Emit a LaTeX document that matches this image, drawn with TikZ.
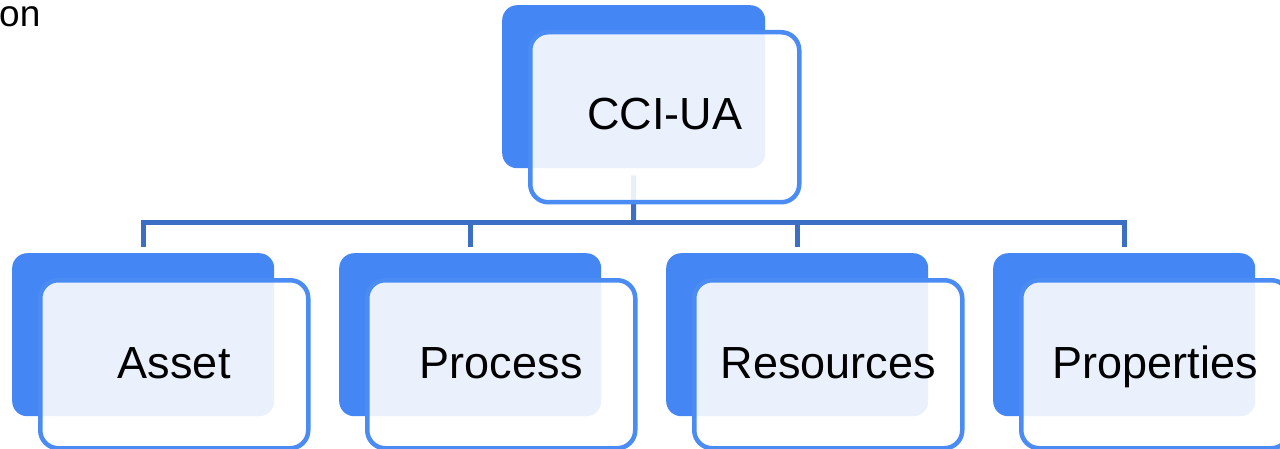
\documentclass[tikz,border=0pt]{standalone}
\usepackage{fontspec}
\setmainfont{Liberation Sans}
\definecolor{backblue}{HTML}{4487F4}
\definecolor{edgeblue}{HTML}{4A8CF4}
\definecolor{linkblue}{HTML}{3C6EC6}
\begin{document}
\begin{tikzpicture}[x=1pt,y=-1pt,
  backbox/.style={fill=backblue, draw=none, rounded corners=15pt,
    minimum width=262pt, minimum height=163pt, anchor=north west, inner sep=0pt},
  frontbox/.style={draw=edgeblue, line width=4.5pt, fill=white, fill opacity=0.89,
    text opacity=1, rounded corners=18pt, minimum width=268pt, minimum height=168pt,
    anchor=north west, inner sep=0pt, text height=28pt, text depth=0pt,
    font=\fontsize{45}{50}\selectfont},
  link/.style={draw=linkblue, line width=5pt}]
\useasboundingbox (0,0) rectangle (1280,449);

% stray word at the top left
\node[anchor=base west, inner sep=0pt, font=\fontsize{37}{40}\selectfont] (frag) at (-1,27) {on};

% solid backing plates
\node[backbox, minimum width=263pt] (tbk) at (502,5) {};
\node[backbox] (abk) at (12,253) {};
\node[backbox] (pbk) at (339,253) {};
\node[backbox] (rbk) at (666,253) {};
\node[backbox] (qbk) at (993,253) {};

% tree connectors
\coordinate (bar) at (633.5,223);
\draw[link] ([yshift=-7pt]tbk.south) -- (bar);
\draw[link] (bar) -| ([yshift=6pt]abk.north);
\draw[link] (bar) -| ([yshift=6pt]pbk.north);
\draw[link] (bar) -| ([yshift=6pt]rbk.north);
\draw[link] (bar) -| ([yshift=6pt]qbk.north);

% translucent front cards with labels
\node[frontbox, minimum width=269pt, minimum height=170pt, text depth=3pt] (top) at (528,30) {CCI-UA};
\node[frontbox] (asset) at (38,278) {Asset};
\node[frontbox] (process) at (365,278) {Process};
\node[frontbox] (resources) at (692,278) {Resources};
\node[frontbox] (properties) at (1019,278) {Properties};
\end{tikzpicture}
\end{document}
